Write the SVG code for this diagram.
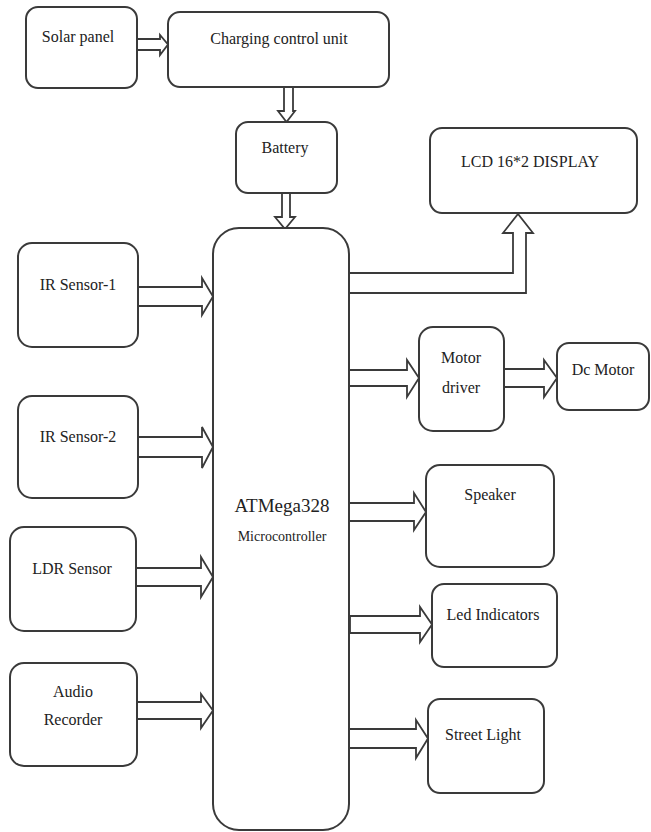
<svg xmlns="http://www.w3.org/2000/svg" width="651" height="832" viewBox="0 0 651 832">
<style>
.box{fill:#fff;stroke:#3a3a3a;stroke-width:2}
.arr{fill:#fff;stroke:#3a3a3a;stroke-width:1.8;stroke-linejoin:miter}
text{font-family:"Liberation Serif","Times New Roman",serif;font-size:16px;fill:#222;text-anchor:middle}
.big{font-size:19px}
.small{font-size:14px}
</style>
<rect width="651" height="832" fill="#fff"/>
<g id="connectors">
<path class="arr" d="M137,39 H160 V35 L168,44.5 L160,55 V50 H137"/>
<path class="arr" d="M284,87 V111 H278 L286.5,122 L295,111 H293 V87"/>
<path class="arr" d="M282,193 V217 H275 L285,229 L295,217 H290 V193"/>
<path class="arr" d="M138,287 H202 V278 L213,296.5 L202,315 V306 H138"/>
<path class="arr" d="M138,437 H202 V427 L213,447 L202,468 V457 H138"/>
<path class="arr" d="M136,568 H201 V557 L213,577 L201,597 V586 H136"/>
<path class="arr" d="M137,702 H201 V694 L213,710.5 L201,728 V719 H137"/>
<path class="arr" d="M349,273 H513 V233 H503 L518,214 L533,233 H526 V293 H349"/>
<path class="arr" d="M349,370 H407 V360 L419,378 L407,397 V386 H349"/>
<path class="arr" d="M504,369 H544 V360 L557,378 L544,397 V387 H504"/>
<path class="arr" d="M349,503 H414 V493 L426,512 L414,530 V521 H349"/>
<path class="arr" d="M350,616 H420 V607 L432,624.5 L420,642 V633 H350 Z"/>
<path class="arr" d="M349,729 H416 V720 L428,738.5 L416,758 V748 H349"/>
</g>
<g id="solar"><rect class="box" x="26" y="7" width="111" height="81" rx="12"/><text x="78" y="42">Solar panel</text></g>
<g id="charging"><rect class="box" x="168" y="12" width="221" height="75" rx="12"/><text x="279" y="44">Charging control unit</text></g>
<g id="battery"><rect class="box" x="236" y="122" width="101" height="71" rx="12"/><text x="285" y="153">Battery</text></g>
<g id="mcu"><rect class="box" x="213" y="228" width="136" height="602" rx="26"/><text class="big" x="282" y="512">ATMega328</text><text class="small" x="282" y="541">Microcontroller</text></g>
<g id="ir1"><rect class="box" x="18" y="243" width="120" height="104" rx="14"/><text x="78" y="290">IR Sensor-1</text></g>
<g id="ir2"><rect class="box" x="18" y="396" width="120" height="102" rx="14"/><text x="78" y="442">IR Sensor-2</text></g>
<g id="ldr"><rect class="box" x="10" y="527" width="126" height="104" rx="14"/><text x="72" y="574">LDR Sensor</text></g>
<g id="audio"><rect class="box" x="10" y="663" width="127" height="103" rx="14"/><text x="73" y="697">Audio</text><text x="73" y="725">Recorder</text></g>
<g id="lcd"><rect class="box" x="430" y="128" width="207" height="85" rx="12"/><text x="530" y="167">LCD 16*2 DISPLAY</text></g>
<g id="motordriver"><rect class="box" x="419" y="327" width="85" height="104" rx="14"/><text x="461" y="363">Motor</text><text x="461" y="393">driver</text></g>
<g id="dcmotor"><rect class="box" x="557" y="343" width="92" height="67" rx="12"/><text x="603" y="375">Dc Motor</text></g>
<g id="speaker"><rect class="box" x="426" y="465" width="128" height="102" rx="14"/><text x="490" y="500">Speaker</text></g>
<g id="led"><rect class="box" x="432" y="584" width="125" height="83" rx="12"/><text x="493" y="620">Led Indicators</text></g>
<g id="street"><rect class="box" x="428" y="699" width="116" height="94" rx="12"/><text x="483" y="740">Street Light</text></g>
</svg>
